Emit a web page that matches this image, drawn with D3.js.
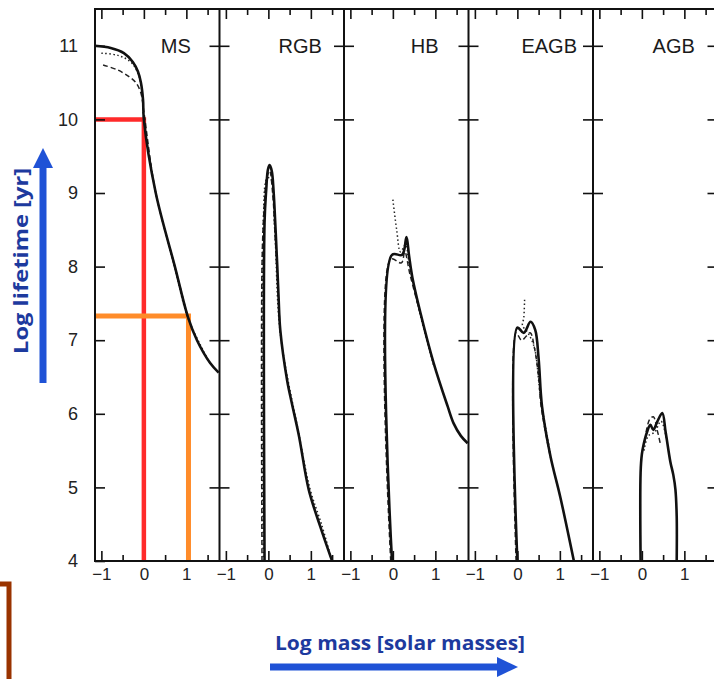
<!DOCTYPE html>
<html lang="en">
<head>
  <meta charset="UTF-8">
  <script src="https://cdn.jsdelivr.net/npm/d3@7"></script>
  <title>Stellar lifetimes</title>
  <style>
    body { margin: 0; background: #fff; }
    .tick text { font-family: "Liberation Sans", Arial, sans-serif; fill: #222; }
    .tick line { stroke: #111; stroke-width: 1.6; }
    .frame { stroke: #111; stroke-width: 2; fill: none; }
    .solid { fill: none; stroke: #111; stroke-width: 2.6; stroke-linejoin: round; }
    .dotted { fill: none; stroke: #222; stroke-width: 1.5; stroke-dasharray: 1.5 2.5; }
    .dashed { fill: none; stroke: #222; stroke-width: 1.5; stroke-dasharray: 5 3; }
    .title { font-family: "Open Sans", sans-serif; font-weight: bold; fill: #1d3a9e; }
  </style>
</head>
<body>
<script>
  // phases (one panel each)
  const phases = ["MS", "RGB", "HB", "EAGB", "AGB"]
  const yTicks = [4, 5, 6, 7, 8, 9, 10, 11]
  const xMajor = [-1, 0, 1]
  const xMinor = [-0.5, 0.5, 1.5]

  // [log mass, log lifetime]
  const solidLines = [
    [[-1.15, 11.0], [-0.78, 10.97], [-0.47, 10.9], [-0.26, 10.78], [-0.14, 10.65], [-0.07, 10.5], [-0.02, 10.27], [0.0, 10.0], [0.28, 9.0], [0.73, 8.0], [1.04, 7.31], [1.25, 7.0], [1.56, 6.69], [1.76, 6.56]],
    [[-0.09, 4.0], [-0.09, 8.6], [-0.05, 9.05], [-0.01, 9.32], [0.03, 9.38], [0.08, 9.3], [0.12, 9.05], [0.17, 8.5], [0.21, 8.0], [0.24, 7.59], [0.28, 7.14], [0.44, 6.46], [0.55, 6.15], [0.72, 5.7], [0.95, 4.97], [1.22, 4.47], [1.5, 4.0]],
    [[-0.02, 4.0], [-0.02, 8.16], [0.22, 8.16], [0.32, 8.4], [0.38, 8.15], [0.46, 7.85], [0.65, 7.37], [0.96, 6.69], [1.29, 6.1], [1.43, 5.87], [1.6, 5.7], [1.76, 5.6]],
    [[0.0, 4.0], [0.0, 7.17], [0.15, 7.1], [0.31, 7.25], [0.42, 7.14], [0.5, 6.75], [0.58, 6.1], [0.78, 5.42], [1.01, 4.87], [1.33, 4.0]],
    [[-0.03, 4.0], [-0.03, 5.2], [0.0, 5.45], [0.04, 5.58], [0.12, 5.75], [0.2, 5.85], [0.27, 5.78], [0.36, 5.89], [0.48, 6.01], [0.56, 5.75], [0.67, 5.35], [0.74, 5.17], [0.79, 4.97], [0.82, 4.6], [0.82, 4.0]]
  ]
  const dottedLines = [
    [[-1.0, 10.9], [-0.61, 10.87], [-0.31, 10.78], [-0.14, 10.63], [-0.05, 10.4], [0.0, 10.0], [0.28, 9.0], [0.73, 7.98], [1.04, 7.3], [1.56, 6.68]],
    [[-0.12, 4.0], [-0.12, 8.6], [-0.03, 9.2], [0.05, 9.2], [0.15, 8.5], [0.28, 7.1], [0.72, 5.72], [0.98, 4.98], [1.25, 4.5], [1.45, 4.1]],
    [[0.0, 8.91], [0.09, 8.5], [0.18, 8.2], [0.3, 8.3], [0.38, 8.05], [0.65, 7.33], [0.96, 6.66]],
    [[0.17, 7.55], [0.15, 7.3], [0.12, 7.2], [0.25, 7.1], [0.4, 6.9], [0.55, 6.2], [0.78, 5.45]],
    [[0.05, 5.5], [0.15, 5.7], [0.3, 5.75], [0.45, 5.9], [0.6, 5.6]]
  ]
  const dashedLines = [
    [[-0.96, 10.74], [-0.61, 10.67], [-0.35, 10.58], [-0.19, 10.5], [-0.07, 10.36], [0.0, 10.1], [0.28, 9.0], [0.73, 8.0], [1.04, 7.3]],
    [[-0.15, 4.0], [-0.15, 8.0], [-0.1, 8.8], [-0.04, 9.2], [0.03, 9.3], [0.1, 9.0], [0.17, 8.3], [0.28, 7.1]],
    [[-0.05, 4.0], [-0.05, 8.1], [0.2, 8.05], [0.28, 8.2], [0.4, 7.9], [0.65, 7.35]],
    [[-0.03, 4.0], [-0.03, 7.1], [0.1, 7.0], [0.3, 7.1], [0.4, 6.9], [0.5, 6.5], [0.56, 6.1], [0.78, 5.4]],
    [[0.1, 5.75], [0.18, 5.92], [0.27, 5.96], [0.36, 5.78], [0.44, 5.58]]
  ]

  // guide lines drawn over the MS panel: [log mass, log lifetime]
  const redGuide = [0, 10]
  const orangeGuide = [1.05, 7.33]

  const W = 714, H = 679
  const left0 = 95, panelW = 124.5, plotTop = 9, plotBottom = 561

  const svg = d3.select('body').append('svg')
    .attr('width', W)
    .attr('height', H)

  const y = d3.scaleLinear().domain([4, 11.5]).range([plotBottom, plotTop])

  const line = d3.line().curve(d3.curveCatmullRom.alpha(0.5))

  phases.forEach((name, i) => {
    const x0 = left0 + i * panelW
    const x = d3.scaleLinear().domain([-1.15, 1.78]).range([x0, x0 + panelW])
    const g = svg.append('g')

    // bottom ticks + labels
    g.append('g').attr('transform', `translate(0,${plotBottom})`)
      .call(d3.axisBottom(x).tickValues(xMajor).tickSizeInner(-10).tickSizeOuter(0).tickPadding(7).tickFormat(d3.format('d')))
      .call(a => a.select('.domain').remove())
      .call(a => a.selectAll('text').style('font-size', '17px'))
    g.append('g').attr('transform', `translate(0,${plotBottom})`)
      .call(d3.axisBottom(x).tickValues(xMinor).tickSizeInner(-6).tickSizeOuter(0).tickFormat(''))
      .call(a => a.select('.domain').remove())
    // top ticks
    g.append('g').attr('transform', `translate(0,${plotTop})`)
      .call(d3.axisTop(x).tickValues(xMajor).tickSizeInner(-10).tickSizeOuter(0).tickFormat(''))
      .call(a => a.select('.domain').remove())
    g.append('g').attr('transform', `translate(0,${plotTop})`)
      .call(d3.axisTop(x).tickValues(xMinor).tickSizeInner(-6).tickSizeOuter(0).tickFormat(''))
      .call(a => a.select('.domain').remove())

    // right divider with cross ticks
    const xr = x0 + panelW
    g.append('g').attr('transform', `translate(${xr},0)`)
      .call(d3.axisLeft(y).tickValues(yTicks.slice(1)).tickSizeInner(10).tickSizeOuter(0).tickFormat(''))
      .call(a => a.select('.domain').remove())
    g.append('g').attr('transform', `translate(${xr},0)`)
      .call(d3.axisRight(y).tickValues(yTicks.slice(1)).tickSizeInner(10).tickSizeOuter(0).tickFormat(''))
      .call(a => a.select('.domain').remove())
    g.append('line').attr('class', 'frame')
      .attr('x1', xr).attr('x2', xr).attr('y1', plotTop).attr('y2', plotBottom)

    // MS guide lines
    if (i === 0) {
      g.append('path')
        .attr('d', `M${x0},${y(redGuide[1])}H${x(redGuide[0])}V${plotBottom}`)
        .attr('fill', 'none').attr('stroke', '#ff2a2a').attr('stroke-width', 4.5)
      g.append('path')
        .attr('d', `M${x0},${y(orangeGuide[1])}H${x(orangeGuide[0])}V${plotBottom}`)
        .attr('fill', 'none').attr('stroke', '#ff8c2a').attr('stroke-width', 5)
    }

    const toPx = pts => pts.map(d => [x(d[0]), y(d[1])])
    g.append('path').attr('class', 'dotted').attr('d', line(toPx(dottedLines[i])))
    g.append('path').attr('class', 'dashed').attr('d', line(toPx(dashedLines[i])))
    g.append('path').attr('class', 'solid').attr('d', line(toPx(solidLines[i])))

    g.append('text')
      .attr('x', x(0.75)).attr('y', y(11) + 7)
      .attr('text-anchor', 'middle')
      .style('font-family', '"Liberation Sans", Arial, sans-serif')
      .style('font-size', '20px').style('fill', '#1a1a1a')
      .text(name)
  })

  // left axis
  svg.append('g').attr('transform', `translate(${left0},0)`)
    .call(d3.axisLeft(y).tickValues(yTicks).tickSizeInner(-10).tickSizeOuter(0).tickPadding(17))
    .call(a => a.select('.domain').remove())
    .call(a => a.selectAll('text').style('font-size', '18px'))

  // frame
  svg.append('path').attr('class', 'frame')
    .attr('d', `M${W},${plotTop}H${left0}V${plotBottom}H${W}`)

  // axis titles with blue arrows
  svg.append('text').attr('class', 'title')
    .attr('transform', 'translate(28,261) rotate(-90)')
    .attr('text-anchor', 'middle')
    .attr('textLength', 186).attr('lengthAdjust', 'spacingAndGlyphs')
    .style('font-size', '19px')
    .text('Log lifetime [yr]')
  svg.append('path')
    .attr('d', 'M43,383V165')
    .attr('stroke', '#1f52d6').attr('stroke-width', 7)
  svg.append('path')
    .attr('d', 'M33,168L43,148L53,168Z')
    .attr('fill', '#1f52d6')

  svg.append('text').attr('class', 'title')
    .attr('x', 400).attr('y', 650)
    .attr('text-anchor', 'middle')
    .attr('textLength', 250).attr('lengthAdjust', 'spacingAndGlyphs')
    .style('font-size', '20px')
    .text('Log mass [solar masses]')
  svg.append('path')
    .attr('d', 'M270,667H500')
    .attr('stroke', '#1f52d6').attr('stroke-width', 7)
  svg.append('path')
    .attr('d', 'M497,657L518,667L497,677Z')
    .attr('fill', '#1f52d6')

  // brown bracket fragment at lower left
  svg.append('path')
    .attr('d', 'M0,584H9V679')
    .attr('fill', 'none').attr('stroke', '#993300').attr('stroke-width', 5)
</script>
</body>
</html>
